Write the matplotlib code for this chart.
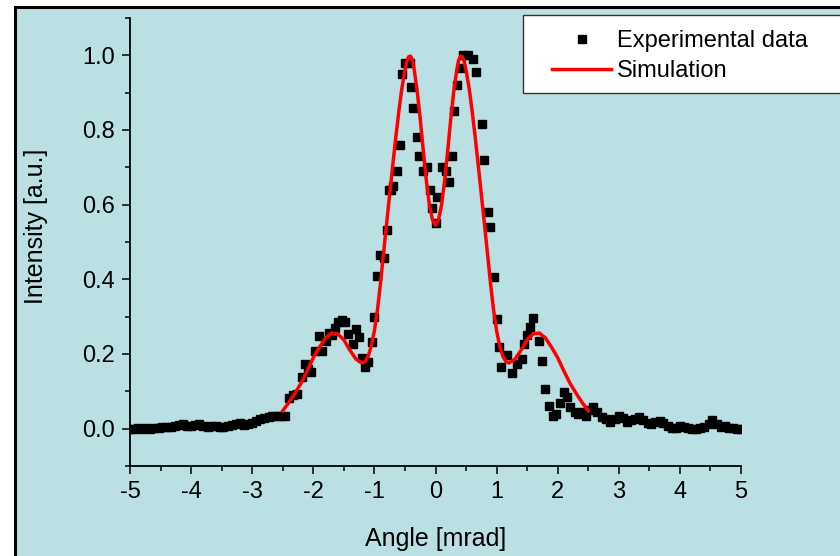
import matplotlib.pyplot as plt
from matplotlib.patches import Rectangle
from matplotlib.lines import Line2D

plt.rcParams['font.family'] = ['Liberation Sans', 'DejaVu Sans']
plt.rcParams['axes.unicode_minus'] = False

# experimental data (angle in mrad, normalised intensity)
exp_x = [-5.0, -4.93, -4.87, -4.8, -4.73, -4.67, -4.6, -4.53, -4.47, -4.4,
         -4.33, -4.27, -4.2, -4.13, -4.07, -4.0, -3.93, -3.87, -3.8, -3.73,
         -3.67, -3.6, -3.53, -3.47, -3.4, -3.33, -3.27, -3.2, -3.13, -3.07,
         -3.0, -2.93, -2.87, -2.8, -2.73, -2.67, -2.6, -2.53, -2.46,
         -2.39, -2.33, -2.27, -2.19, -2.14, -2.08, -2.03, -1.97, -1.9, -1.86,
         -1.8, -1.75, -1.7, -1.64, -1.59, -1.53, -1.48, -1.43, -1.35, -1.3,
         -1.25, -1.2, -1.15, -1.1, -1.04, -1.01, -0.96, -0.91, -0.84, -0.8,
         -0.76, -0.73, -0.7, -0.635, -0.58, -0.55, -0.5, -0.42, -0.4, -0.37,
         -0.31, -0.27, -0.21, -0.14, -0.09, -0.05, 0.01, 0.03, 0.1, 0.17,
         0.22, 0.27, 0.3, 0.35, 0.41, 0.45, 0.53, 0.61, 0.67, 0.76,
         0.79, 0.865, 0.9, 0.96, 1.0, 1.045, 1.08, 1.165, 1.245, 1.33,
         1.41, 1.45, 1.49, 1.55, 1.6, 1.7, 1.75, 1.8, 1.86, 1.93,
         1.97, 2.04, 2.1, 2.15, 2.2, 2.28, 2.34, 2.41, 2.47, 2.53,
         2.58, 2.65, 2.72, 2.79, 2.86, 2.93, 3.0, 3.07, 3.13, 3.2,
         3.27, 3.33, 3.4, 3.47, 3.53, 3.6, 3.67, 3.73, 3.8, 3.87,
         3.93, 4.0, 4.07, 4.13, 4.2, 4.27, 4.33, 4.4, 4.47, 4.53,
         4.6, 4.67, 4.73, 4.8, 4.87, 4.93, 5.0]
exp_y = [0.0, 0.0, 0.002, 0.0, 0.001, 0.0, 0.002, 0.003, 0.004, 0.005,
         0.004, 0.007, 0.01, 0.012, 0.008, 0.006, 0.01, 0.012, 0.007, 0.004,
         0.006, 0.008, 0.005, 0.004, 0.007, 0.009, 0.012, 0.014, 0.01, 0.012,
         0.016, 0.02, 0.026, 0.028, 0.03, 0.033, 0.035, 0.035, 0.035,
         0.082, 0.09, 0.093, 0.138, 0.173, 0.16, 0.151, 0.209, 0.247, 0.207,
         0.235, 0.256, 0.25, 0.27, 0.285, 0.29, 0.285, 0.254, 0.227, 0.267,
         0.245, 0.19, 0.164, 0.178, 0.233, 0.3, 0.41, 0.466, 0.456, 0.533,
         0.64, 0.64, 0.65, 0.69, 0.76, 0.95, 0.98, 0.98, 0.915, 0.86,
         0.78, 0.73, 0.69, 0.7, 0.64, 0.59, 0.55, 0.62, 0.7, 0.69,
         0.66, 0.73, 0.85, 0.92, 0.965, 1.0, 1.0, 0.99, 0.955, 0.815,
         0.72, 0.58, 0.54, 0.405, 0.295, 0.218, 0.165, 0.198, 0.148, 0.174,
         0.187, 0.227, 0.25, 0.273, 0.297, 0.234, 0.18, 0.105, 0.06, 0.035,
         0.04, 0.07, 0.097, 0.085, 0.057, 0.044, 0.039, 0.045, 0.035, 0.05,
         0.057, 0.045, 0.03, 0.025, 0.017, 0.025, 0.035, 0.028, 0.018, 0.022,
         0.025, 0.03, 0.022, 0.016, 0.013, 0.018, 0.02, 0.014, 0.006, 0.002,
         0.003, 0.006, 0.005, 0.002, 0.0, 0.0, 0.002, 0.005, 0.012, 0.022,
         0.012, 0.005, 0.006, 0.003, 0.001, 0.0, 0.0]

# simulated profile
sim_x = [-2.5, -2.4, -2.3, -2.2, -2.1, -2.0, -1.9, -1.8, -1.7, -1.6,
         -1.5, -1.4, -1.3, -1.2, -1.15, -1.1, -1.05, -1.0, -0.95, -0.9,
         -0.85, -0.8, -0.75, -0.7, -0.65, -0.6, -0.55, -0.5, -0.47, -0.44,
         -0.41, -0.38, -0.35, -0.3, -0.25, -0.2, -0.15, -0.1, -0.05, 0.0,
         0.05, 0.1, 0.15, 0.2, 0.25, 0.3, 0.35, 0.38, 0.41, 0.44,
         0.47, 0.5, 0.55, 0.6, 0.65, 0.7, 0.75, 0.8, 0.85, 0.9,
         0.95, 1.0, 1.05, 1.1, 1.15, 1.2, 1.3, 1.4, 1.5, 1.6,
         1.7, 1.8, 1.9, 2.0, 2.1, 2.2, 2.3, 2.4, 2.5]
sim_y = [0.048, 0.07, 0.095, 0.122, 0.155, 0.19, 0.218, 0.243, 0.256, 0.254,
         0.238, 0.21, 0.186, 0.176, 0.18, 0.195, 0.222, 0.262, 0.318, 0.39,
         0.47, 0.55, 0.628, 0.705, 0.78, 0.85, 0.912, 0.96, 0.983, 0.996,
         0.998, 0.988, 0.963, 0.905, 0.83, 0.745, 0.665, 0.6, 0.56, 0.545,
         0.56, 0.6, 0.665, 0.745, 0.83, 0.905, 0.963, 0.988, 0.998, 0.996,
         0.983, 0.96, 0.912, 0.85, 0.78, 0.705, 0.628, 0.55, 0.47, 0.39,
         0.318, 0.262, 0.222, 0.195, 0.18, 0.176, 0.186, 0.21, 0.238, 0.254,
         0.256, 0.243, 0.218, 0.19, 0.155, 0.122, 0.095, 0.07, 0.048]

bg = '#bae0e3'
fig = plt.figure(figsize=(8.4, 5.56), dpi=100, facecolor='white')
W, H = 840.0, 556.0

# light blue panel with black frame on the left and top
fig.patches.append(Rectangle((15 / W, 0), 1, 1 - 7 / H, transform=fig.transFigure,
                             facecolor=bg, edgecolor='none', zorder=-3))
fig.lines.append(Line2D([15 / W, 15 / W], [0, 1 - 7 / H], transform=fig.transFigure,
                        color='black', lw=2.2))
fig.lines.append(Line2D([15 / W, 1], [1 - 7 / H, 1 - 7 / H], transform=fig.transFigure,
                        color='black', lw=2.2))

ax = fig.add_axes([130 / W, 1 - 466 / H, 611 / W, 448 / H])
ax.set_facecolor('none')
ax.plot(exp_x, exp_y, 's', color='black', ms=6, label='Experimental data')
ax.plot(sim_x, sim_y, '-', color='#ff0000', lw=2.5, label='Simulation')

ax.set_xlim(-5, 5)
ax.set_ylim(-0.1, 1.1)
ax.set_xticks(range(-5, 6))
ax.set_xticks([i + 0.5 for i in range(-5, 5)], minor=True)
ax.set_yticks([0.0, 0.2, 0.4, 0.6, 0.8, 1.0])
ax.set_yticks([-0.1, 0.1, 0.3, 0.5, 0.7, 0.9, 1.1], minor=True)
ax.set_yticklabels(['0.0', '0.2', '0.4', '0.6', '0.8', '1.0'])

ax.spines['right'].set_color('none')
ax.spines['top'].set_color('none')
ax.spines['left'].set_linewidth(1.3)
ax.spines['bottom'].set_linewidth(1.3)
ax.tick_params(which='major', direction='out', length=6, width=1.1, labelsize=17, pad=5)
ax.tick_params(which='minor', direction='out', length=3.5, width=1.1)

ax.set_xlabel('Angle [mrad]', fontsize=18, labelpad=17)
ax.set_ylabel('Intensity [a.u.]', fontsize=18)
ax.yaxis.set_label_coords(-0.134, 0.535)

# legend box running off the right edge
fig.patches.append(Rectangle((523 / W, 1 - 93 / H), 0.5, 78 / H, transform=fig.transFigure,
                             facecolor='white', edgecolor='#333333', lw=1.0, zorder=-2))
ax.legend(loc='upper left', bbox_to_anchor=(552 / W, 1 - 30 / H),
          bbox_transform=fig.transFigure, frameon=False, fontsize=17,
          handlelength=2.5, handletextpad=0.25, labelspacing=0.35, borderpad=0,
          borderaxespad=0)

fig.savefig('out.png', dpi=100, facecolor=fig.get_facecolor())
